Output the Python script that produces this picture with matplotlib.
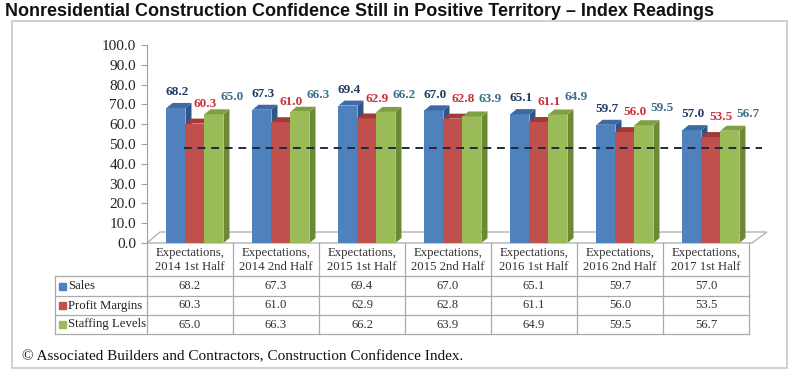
import numpy as np
import matplotlib
matplotlib.use("Agg")
import matplotlib.pyplot as plt
from matplotlib.patches import Polygon, Rectangle

periods = ["Expectations,\n2014 1st Half", "Expectations,\n2014 2nd Half", "Expectations,\n2015 1st Half",
           "Expectations,\n2015 2nd Half", "Expectations,\n2016 1st Half", "Expectations,\n2016 2nd Half",
           "Expectations,\n2017 1st Half"]
series = ["Sales", "Profit Margins", "Staffing Levels"]
sales = [68.2, 67.3, 69.4, 67.0, 65.1, 59.7, 57.0]
profit = [60.3, 61.0, 62.9, 62.8, 61.1, 56.0, 53.5]
staffing = [65.0, 66.3, 66.2, 63.9, 64.9, 59.5, 56.7]
threshold = 48.0
yticks = np.arange(0, 101, 10)

front = ["#4F81BD", "#C0504D", "#9BBB59"]
side = ["#2F5488", "#8B2E2B", "#6C8A35"]
top = ["#3D6AA3", "#A33A37", "#7F9F44"]
lblc = ["#1F3A63", "#C8313A", "#3D6F8C"]
lbl_off = [(1, 7), (7, 10), (13, 8)]

SERIF = ["Liberation Serif", "DejaVu Serif"]
W, H = 800, 386
fig = plt.figure(figsize=(8, 3.86), dpi=100)

# pixel overlay for frame, floor and table
ov = fig.add_axes([0, 0, 1, 1], zorder=0)
ov.set_xlim(0, W); ov.set_ylim(H, 0); ov.axis("off")
ov.add_patch(Rectangle((12, 21), 775, 347, fill=False, ec="#C8C8C8", lw=1.2))
ov.add_patch(Polygon([(147, 243), (752, 243), (767, 232), (160, 232)], closed=True,
                     fc="white", ec="#B4B4B4", lw=1))

gc = "#AAAAAA"
x0, cw = 147, 86
xr = x0 + cw * len(periods)
for k in range(len(periods) + 1):
    ov.plot([x0 + cw * k] * 2, [243, 334], color=gc, lw=0.9)
ov.plot([55, 55], [276, 334], color=gc, lw=0.9)
for yy in (276, 296, 315, 334):
    ov.plot([55, xr], [yy, yy], color=gc, lw=0.9)
for k, p in enumerate(periods):
    ov.text(x0 + cw * (k + 0.5), 260, p, ha="center", va="center", fontsize=9.2,
            family=SERIF, color="#333333", linespacing=1.15)
rows_y = [286, 305.5, 324.5]
for r, (name, vals) in enumerate(zip(series, [sales, profit, staffing])):
    ov.add_patch(Rectangle((59, rows_y[r] - 3.5), 7, 7, color=front[r]))
    ov.text(68, rows_y[r], name, ha="left", va="center", fontsize=9.2, family=SERIF, color="#222222")
    for k, v in enumerate(vals):
        ov.text(x0 + cw * (k + 0.5), rows_y[r], f"{v:.1f}", ha="center", va="center",
                fontsize=9.2, family=SERIF, color="#333333")
ov.text(22, 357, "\u00a9 Associated Builders and Contractors, Construction Confidence Index.",
        ha="left", va="center", fontsize=11, family=SERIF, color="#111111")
fig.text(5 / W, 1 - 11 / H, "Nonresidential Construction Confidence Still in Positive Territory \u2013 Index Readings",
         ha="left", va="center", fontsize=13, fontweight="bold",
         family=["Liberation Sans", "DejaVu Sans"], color="#111111")

# chart axes
ax = fig.add_axes([147 / W, (H - 243) / H, 618 / W, 198 / H], zorder=2)
ax.patch.set_alpha(0)
ax.set_ylim(0, 100)
ax.set_xlim(-0.558, 6.628)
for s in ("top", "right", "bottom"):
    ax.spines[s].set_visible(False)
ax.spines["left"].set_color("#A0A0A0")
ax.set_xticks([])
ax.set_yticks(yticks)
ax.set_yticklabels([f"{t:.1f}" for t in yticks], family=SERIF, fontsize=11, color="#222222")
ax.tick_params(axis="y", length=4, color="#A0A0A0", pad=4)

bw = 19 / 86
dx, dy = 6 / 86, 5 / 1.98
xs = np.arange(len(periods))
z = 3
for i in xs:
    for s, vals in enumerate([sales, profit, staffing]):
        xc = i + (s - 1) * bw
        v = vals[i]
        ax.bar(xc, v, width=bw, color=front[s], zorder=z)
        ax.add_patch(Polygon([(xc + bw / 2, 0), (xc + bw / 2 + dx, dy), (xc + bw / 2 + dx, v + dy),
                              (xc + bw / 2, v)], closed=True, fc=side[s], ec="none", zorder=z))
        ax.add_patch(Polygon([(xc - bw / 2, v), (xc + bw / 2, v), (xc + bw / 2 + dx, v + dy),
                              (xc - bw / 2 + dx, v + dy)], closed=True, fc=top[s], ec="none", zorder=z))
        z += 1
        ax.annotate(f"{v:.1f}", (xc, v), xytext=lbl_off[s], textcoords="offset points",
                    ha="center", va="bottom", fontsize=9.5, fontweight="bold", family=SERIF,
                    color=lblc[s], zorder=100)

ax.plot([-0.128, 6.593], [threshold, threshold], ls=(0, (4, 3)), color="#1C2A44", lw=1.4, zorder=90)

fig.savefig("out.png", dpi=100)
